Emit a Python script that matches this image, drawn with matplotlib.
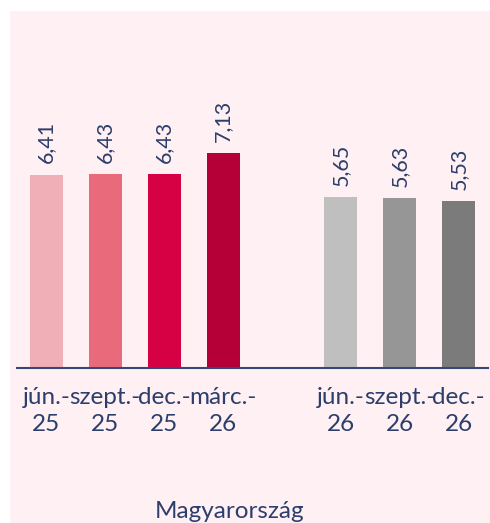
import matplotlib
matplotlib.use("Agg")
import matplotlib.pyplot as plt
from matplotlib.patches import Rectangle

categories = ["jún.-\n25", "szept.-\n25", "dec.-\n25", "márc.-\n26", "jún.-\n26", "szept.-\n26", "dec.-\n26"]
positions = [0, 1, 2, 3, 5, 6, 7]
values = [6.41, 6.43, 6.43, 7.13, 5.65, 5.63, 5.53]
labels = ["6,41", "6,43", "6,43", "7,13", "5,65", "5,63", "5,53"]
colors = ["#F0AEB6", "#E86A7B", "#D60045", "#B40036", "#BFBFBF", "#969696", "#7B7B7B"]
xlabel = "Magyarország"

W, H = 490, 523
fig = plt.figure(figsize=(W / 100, H / 100), dpi=100, facecolor="white")
fig.patches.append(Rectangle((10 / W, 0), 1 - 10 / W, 1 - 11 / H, transform=fig.transFigure,
                             facecolor="#FFF0F4", edgecolor="none", zorder=-10))

font = "Lato"
navy = "#2C3E6B"
left, right = 17, 488
base, top = 367.5, 20
ax = fig.add_axes([left / W, (H - base) / H, (right - left) / W, (base - top) / H])
ax.set_facecolor("none")
scale = 30.1
ax.set_ylim(0, (base - top) / scale)
ax.set_xlim(-0.5, 7.5)

ax.bar(positions, values, width=0.56, color=colors, zorder=2)
for x, v, l in zip(positions, values, labels):
    ax.annotate(l, (x, v), xytext=(0, 8), textcoords="offset points", rotation=90,
                ha="center", va="bottom", fontsize=15.5, color=navy, family=font)

for s in ["top", "right", "left"]:
    ax.spines[s].set_visible(False)
ax.spines["bottom"].set_color("#34497A")
ax.spines["bottom"].set_linewidth(1.5)
ax.set_yticks([])
ax.set_xticks(positions)
ax.set_xticklabels(categories, fontsize=17.5, color=navy, family=font, linespacing=1.38)
ax.tick_params(axis="x", length=0, pad=14)

fig.text(230 / W, 1 - 511 / H, xlabel, ha="center", va="center", fontsize=17.5, color=navy, family=font)

fig.savefig("out.png", dpi=100)
